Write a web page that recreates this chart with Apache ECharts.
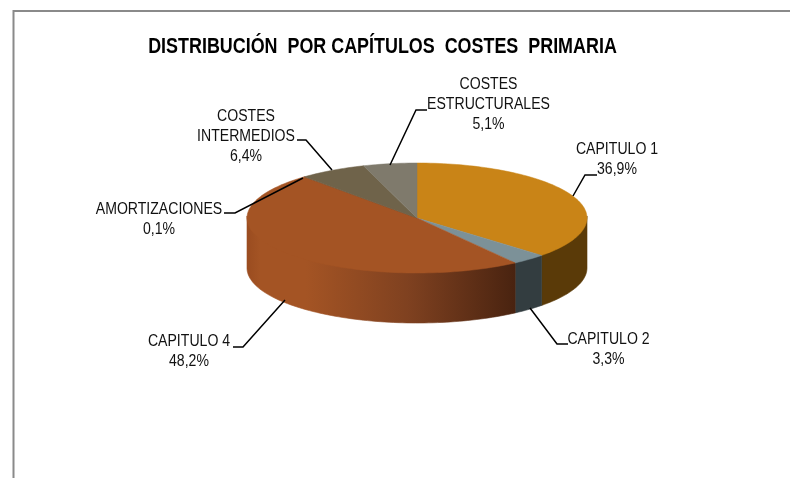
<!DOCTYPE html>
<html><head><meta charset="utf-8">
<style>html,body{margin:0;padding:0;background:#fff}#c{width:790px;height:478px}</style>
<script src="https://cdn.jsdelivr.net/npm/echarts@6/dist/echarts.min.js"></script>
</head><body><div id="c"></div>
<script>
const titleText = 'DISTRIBUCIÓN  POR CAPÍTULOS  COSTES  PRIMARIA';
const categories = ['CAPITULO 1', 'CAPITULO 2', 'CAPITULO 4', 'AMORTIZACIONES', 'COSTES\nINTERMEDIOS', 'COSTES\nESTRUCTURALES'];
const shares = [36.9, 3.3, 48.2, 0.1, 6.4, 5.1];
const topColors = ['#C98417', '#7C9198', '#A45424', '#8A4A22', '#6F634A', '#7F7A6C'];
const wallColors = ['#5A3A08', '#333D40', null, '#5A2C12', '#3C3526', '#45423A'];
// label anchor (centre x, first line y) and leader paths
const labelAt = [[617, 150], [608.5, 340], [189, 342], [159, 209.5], [246, 117], [488.5, 85]];
const leaders = [
  [[573, 196], [585, 175], [597, 175]],
  [[530, 308], [557, 344], [568, 344]],
  [[285, 300], [243, 347], [233, 347]],
  [[303, 178], [235, 213], [224, 213]],
  [[332, 170], [306, 140], [297, 140]],
  [[390, 165], [416, 110], [427, 110]]
];
const pie = {cx: 417, cy: 218, rx: 170, ry: 55, depth: 50};
const total = shares.reduce((a, b) => a + b, 0);
const pct = v => v.toFixed(1).replace('.', ',') + '%';
const rim = (deg, dy) => {
  const a = deg * Math.PI / 180;
  return [pie.cx + pie.rx * Math.sin(a), pie.cy - pie.ry * Math.cos(a) + (dy || 0)];
};
const arc = (from, to, dy) => {
  const pts = [], n = Math.max(2, Math.ceil((to - from) / 1.5));
  for (let i = 0; i <= n; i++) pts.push(rim(from + (to - from) * i / n, dy));
  return pts;
};
const capGradient = () => new echarts.graphic.LinearGradient(0, 0, 1, 0, [
  {offset: 0, color: '#9A4C20'}, {offset: 0.05, color: '#A45424'},
  {offset: 0.22, color: '#A45424'}, {offset: 0.6, color: '#7F4120'},
  {offset: 1, color: '#492310'}
]);
const textEl = (text, x, y, font, sx) => ({
  type: 'text', x, y, scaleX: sx, silent: true, z2: 3,
  style: {text, x: 0, y: 0, fill: '#111', font, align: 'center', verticalAlign: 'middle'}
});
const labelFont = '16px "Liberation Sans", Arial, sans-serif';

const chart = echarts.init(document.getElementById('c'), null, {renderer: 'canvas'});
chart.setOption({
  animation: false,
  backgroundColor: '#fff',
  graphic: [
    {type: 'polyline', shape: {points: [[13.5, 478], [13.5, 11], [790, 11]]}, style: {stroke: '#8A8A8A', lineWidth: 2, fill: null}},
    {type: 'text', x: 382.5, y: 47, scaleX: 0.814, style: {text: titleText, x: 0, y: 0, fill: '#000', font: 'bold 22px "Liberation Sans", Arial, sans-serif', align: 'center', verticalAlign: 'middle'}}
  ],
  series: [{
    type: 'custom',
    coordinateSystem: 'none',
    clip: false,
    data: shares.map(v => [v]),
    renderItem(params, api) {
      const i = params.dataIndex;
      const before = shares.slice(0, i).reduce((a, b) => a + b, 0);
      const from = before / total * 360;
      const to = from + api.value(0) / total * 360;
      const children = [];
      const wFrom = Math.max(from, 90), wTo = Math.min(to, 270);
      if (wTo > wFrom) {
        const pts = arc(wFrom, wTo, -2).concat(arc(wFrom, wTo, pie.depth).reverse());
        const f = wallColors[i] || capGradient();
        children.push({type: 'polygon', z2: 0, shape: {points: pts}, style: {fill: f, stroke: f, lineWidth: 0.6}});
      }
      children.push({type: 'polygon', z2: 1, shape: {points: [[pie.cx, pie.cy]].concat(arc(from, to, 0))}, style: {fill: topColors[i], stroke: topColors[i], lineWidth: 0.5}});
      children.push({type: 'polyline', z2: 2, shape: {points: leaders[i]}, style: {stroke: '#000', lineWidth: 1.5, fill: null}});
      const lines = categories[i].split('\n').concat(pct(api.value(0)));
      lines.forEach((t, k) => children.push(textEl(t, labelAt[i][0], labelAt[i][1] + k * 19.7, labelFont, 0.88)));
      return {type: 'group', children};
    }
  }]
});
</script></body></html>
